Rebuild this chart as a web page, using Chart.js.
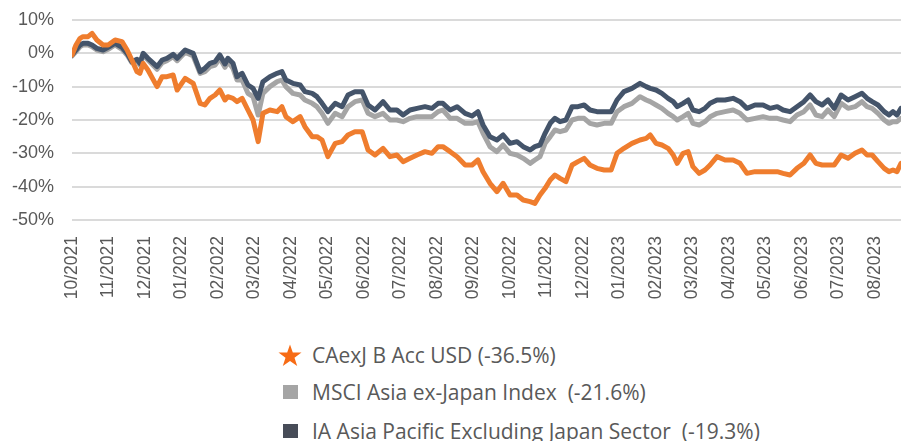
<!DOCTYPE html>
<html>
<head>
  <title>CAexJ performance</title>
  <script src="https://cdn.jsdelivr.net/npm/chart.js"></script>
  <style>
    body {
      margin: 0;
      overflow: hidden;
      background-color: #fff;
      font-family: "Open Sans", sans-serif;
      color: #595959;
    }

    .chart-box {
      position: relative;
      width: 909px;
      height: 310px;
    }

    .legend-item {
      position: absolute;
      left: 278px;
      display: flex;
      align-items: center;
      font-size: 21px;
      white-space: pre;
      height: 30px;
    }

    .legend-icon {
      width: 24px;
      display: flex;
      justify-content: center;
      margin-right: 10px;
    }

    .swatch {
      width: 15px;
      height: 14px;
    }
  </style>
</head>
<body>
  <div class="chart-box">
    <canvas id="perfChart"></canvas>
  </div>

  <div class="legend-item" style="top: 340px;">
    <span class="legend-icon">
      <svg width="25" height="23" viewBox="0 0 24 22"><polygon points="12,0 14.8,8 23.5,8 16.5,13.2 19.2,21.5 12,16.4 4.8,21.5 7.5,13.2 0.5,8 9.2,8" fill="#f76b15"/></svg>
    </span>
    <span>CAexJ B Acc USD (-36.5%)</span>
  </div>
  <div class="legend-item" style="top: 377px;">
    <span class="legend-icon"><span class="swatch" style="background:#a5a5a5"></span></span>
    <span>MSCI Asia ex-Japan Index  (-21.6%)</span>
  </div>
  <div class="legend-item" style="top: 416px;">
    <span class="legend-icon"><span class="swatch" style="background:#474c58"></span></span>
    <span>IA Asia Pacific Excluding Japan Sector  (-19.3%)</span>
  </div>

  <script>
    // month tick labels (tick i = start of month i, counted from 10/2021)
    const tickLabels = ['10/2021', '11/2021', '12/2021', '01/2022', '02/2022', '03/2022', '04/2022',
      '05/2022', '06/2022', '07/2022', '08/2022', '09/2022', '10/2022', '11/2022', '12/2022',
      '01/2023', '02/2023', '03/2023', '04/2023', '05/2023', '06/2023', '07/2023', '08/2023'];

    // time in months since start of 10/2021
    const months = [
      0.00, 0.11, 0.22, 0.30, 0.44, 0.55, 0.68, 0.85, 0.99, 1.18, 1.37, 1.51, 1.64, 1.78, 1.86, 1.95,
      2.08, 2.33, 2.47, 2.60, 2.77, 2.88, 3.10, 3.32, 3.51, 3.64, 3.78, 3.92, 4.05, 4.19, 4.27, 4.41,
      4.52, 4.66, 4.82, 4.96, 5.10, 5.23, 5.42, 5.62, 5.75, 5.86, 6.05, 6.25, 6.38, 6.58, 6.71, 6.85,
      7.01, 7.21, 7.40, 7.56, 7.75, 7.95, 8.11, 8.30, 8.52, 8.71, 8.90, 9.07, 9.26, 9.45, 9.67, 9.86,
      10.03, 10.16, 10.36, 10.55, 10.77, 10.96, 11.12, 11.26, 11.45, 11.64, 11.81, 12.00, 12.19, 12.36,
      12.55, 12.68, 12.82, 12.96, 13.10, 13.23, 13.37, 13.53, 13.70, 13.86, 14.03, 14.19, 14.38, 14.58,
      14.77, 14.93, 15.12, 15.34, 15.56, 15.73, 15.84, 16.00, 16.16, 16.33, 16.47, 16.58, 16.74, 16.88,
      17.01, 17.18, 17.34, 17.48, 17.67, 17.89, 18.11, 18.30, 18.49, 18.71, 18.93, 19.12, 19.32, 19.48,
      19.67, 19.86, 20.05, 20.22, 20.38, 20.55, 20.71, 20.88, 21.07, 21.26, 21.45, 21.64, 21.78, 21.92,
      22.08, 22.25, 22.38, 22.49, 22.60, 22.71
    ];

    // cumulative performance, %
    const fund = [
      -0.5, 2.5, 4.5, 5, 5, 6, 4, 2.5, 2.5, 4, 3.5, 1, -2, -5.5, -6, -3,
      -5, -10, -7, -7, -6.5, -11, -7.5, -9, -15, -15.5, -13.5, -12.5, -11, -14, -13, -13.5,
      -14.5, -13.5, -17, -20, -26.5, -18, -17, -17.5, -16, -19, -20.5, -19, -22, -25, -25, -26,
      -31, -27, -26.5, -24.5, -23.5, -23.5, -29, -30.5, -28.5, -31, -30.5, -32.5, -31.5, -30.5, -29.5, -30,
      -28, -28, -29.5, -31, -33.5, -33.5, -32, -35.5, -39, -41.5, -39, -42.5, -42.5, -44,
      -44.5, -45, -42.5, -40.5, -38, -36.5, -37.5, -38.5, -33.5, -32.5, -31.5, -33.5, -34.5, -35,
      -35, -30, -28.5, -27, -26, -25.5, -24.5, -27, -27.5, -28.5, -30.5, -33, -30, -29.5,
      -34, -36, -35, -33.5, -31, -32, -32, -33, -36, -35.5, -35.5, -35.5, -35.5, -36,
      -36.5, -34.5, -33, -30.5, -33, -33.5, -33.5, -33.5, -30.5, -31.5, -30, -29, -30.5, -30.5,
      -32.5, -34.5, -35.5, -35, -35.5, -33
    ];

    const msci = [
      -0.8, 0.5, 2, 2.5, 2.5, 2, 1, 0.5, 1.2, 2.5, 1.2, -0.5, -2.8, -2.2, -3.5, -0.5,
      -2, -4.8, -2.8, -2.2, -1, -2.2, 0.3, -0.8, -6, -5.5, -4, -3.5, -1.5, -4.2, -2.5, -4.5,
      -8, -8, -12, -13, -18.5, -12, -10, -8.5, -8, -10, -12, -12.5, -14, -15, -16, -18,
      -21, -18, -19, -16, -14.5, -14, -18, -19, -18, -20, -20, -20.5, -19.5, -19, -19, -19,
      -17.5, -17, -19.5, -19.5, -21, -21, -20.5, -24, -28, -29.5, -27.5, -30, -30.5, -31.5,
      -33, -32, -31, -27, -25, -23, -23.5, -23, -20, -19.5, -19.5, -21, -21.5, -21,
      -21, -17.5, -16, -15, -13, -14, -14.5, -15.5, -16.5, -18, -19, -20, -19, -18,
      -21, -21.5, -20.5, -19, -18, -17.5, -17, -18, -20, -19.5, -19, -19.5, -19.5, -20,
      -20.5, -18.5, -17.5, -15.5, -18.5, -19, -17, -19, -15, -16.5, -16, -14.5, -16, -16.5,
      -18, -20, -21, -20.5, -20.5, -19.5
    ];

    const sector = [
      -0.5, 1, 2.5, 3, 3, 2.5, 1.5, 1, 1.8, 3, 1.8, 0, -2.5, -1.8, -3, 0,
      -1.5, -4, -2, -1.5, -0.3, -1.5, 1, 0, -5.5, -4.5, -3, -2.5, -0.5, -3.2, -1.5, -3,
      -7, -6, -9.5, -10.5, -13.5, -8.5, -7, -6, -5.5, -8, -9, -9.5, -11.5, -12, -13, -15,
      -17.5, -15, -16, -12.5, -11.5, -11.5, -15.5, -17, -14.5, -17, -17, -18.5, -17, -16.5, -16, -16.5,
      -15, -15, -17, -16, -18, -18.8, -17.5, -21.5, -25, -26, -24.5, -27, -26.5, -28,
      -29, -28, -27.5, -24, -21, -19.5, -20.5, -20, -16, -16, -15.5, -17, -17.5, -17.5,
      -17.5, -14, -11.5, -10.5, -9, -10, -10.5, -11, -12, -13.5, -14.5, -16, -15, -14,
      -17, -17.5, -16.5, -15, -14, -14, -13.5, -14.5, -16.5, -15.5, -15.5, -16.5, -16, -17,
      -17.5, -16, -14.5, -12.5, -14.5, -15.5, -14, -16.5, -12.5, -14, -13, -12, -13.5, -14.5,
      -15.5, -17.5, -18.5, -17.5, -18.5, -16.5
    ];

    const seriesNames = ['CAexJ B Acc USD', 'MSCI Asia ex-Japan Index', 'IA Asia Pacific Excluding Japan Sector'];

    function toPoints(values) {
      return values.map((v, i) => ({ x: months[i], y: v }));
    }

    function createChart() {
      const ctx = document.getElementById('perfChart').getContext('2d');

      // axis labels use an Arial-like face, the legend (HTML) uses Open Sans
      Chart.defaults.font.family = '"Liberation Sans", Arial, sans-serif';
      Chart.defaults.color = '#595959';

      new Chart(ctx, {
        type: 'line',
        data: {
          datasets: [
            { label: seriesNames[0], data: toPoints(fund), borderColor: '#ef7d2e', order: 0 },
            { label: seriesNames[1], data: toPoints(msci), borderColor: '#a5a5a5', order: 2 },
            { label: seriesNames[2], data: toPoints(sector), borderColor: '#44546a', order: 1 }
          ]
        },
        options: {
          responsive: true,
          maintainAspectRatio: false,
          animation: false,
          layout: { padding: { top: 20, right: 8, bottom: 0, left: 0 } },
          elements: {
            point: { radius: 0 },
            line: { borderWidth: 5, tension: 0, borderJoinStyle: 'round', borderCapStyle: 'round' }
          },
          plugins: {
            legend: { display: false },
            tooltip: { enabled: false }
          },
          scales: {
            x: {
              type: 'linear',
              min: 0,
              max: months[months.length - 1],
              grid: { display: false },
              border: { display: false },
              afterBuildTicks: axis => {
                axis.ticks = tickLabels.map((_, i) => ({ value: i }));
              },
              afterFit: axis => {
                axis.height = 90;
                axis.paddingLeft = 0;
                axis.paddingRight = 0;
              },
              ticks: {
                autoSkip: false,
                minRotation: 90,
                maxRotation: 90,
                padding: 8,
                font: { size: 17.5 },
                callback: value => tickLabels[value]
              }
            },
            y: {
              min: -50,
              max: 10,
              afterFit: axis => {
                axis.width = 72;
                axis.paddingTop = 0;
                axis.paddingBottom = 0;
              },
              grid: { color: '#dadada', lineWidth: 2, drawTicks: false },
              border: { display: false },
              ticks: {
                stepSize: 10,
                padding: 18,
                font: { size: 18 },
                callback: value => value + '%'
              }
            }
          }
        }
      });
    }

    window.onload = createChart;
  </script>
</body>
</html>
